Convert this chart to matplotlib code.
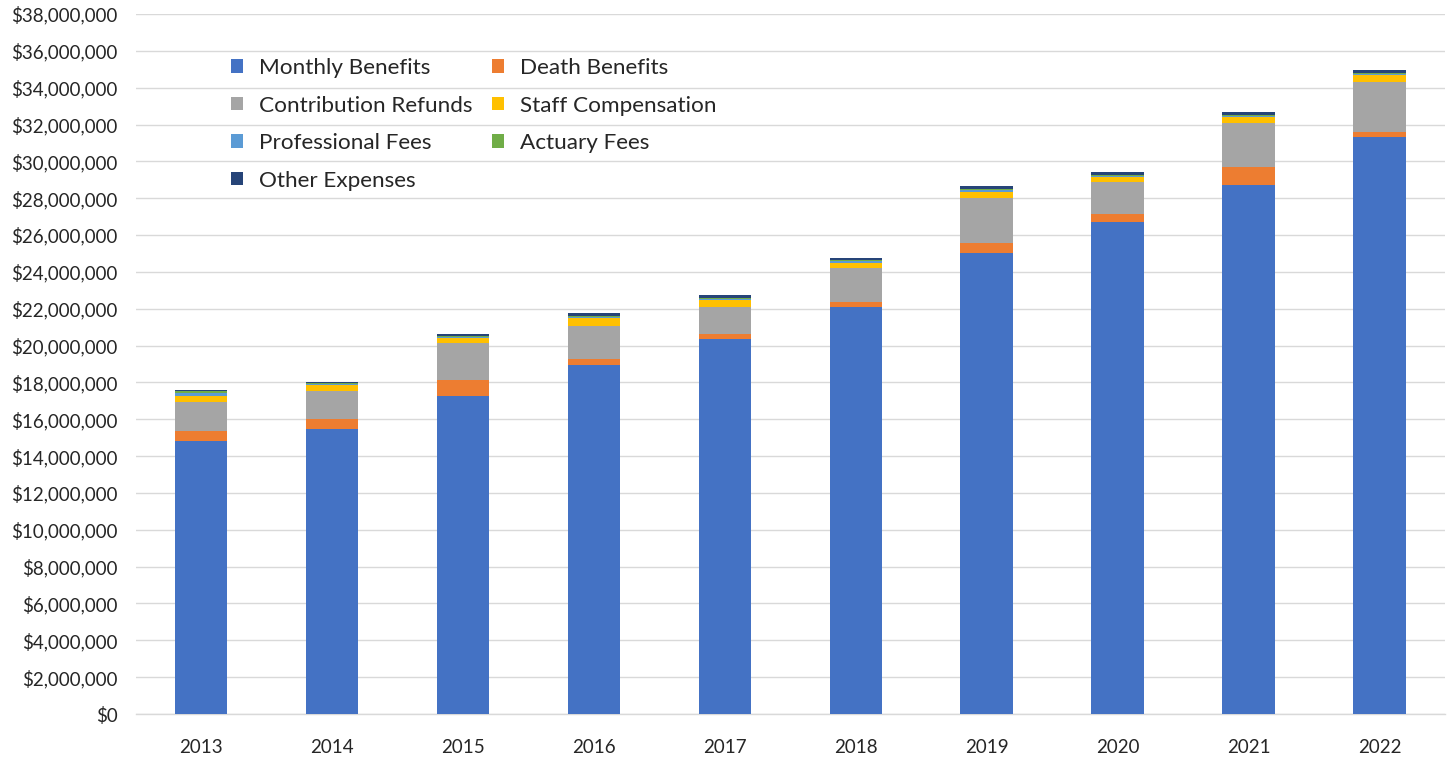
import matplotlib
matplotlib.use("Agg")
import matplotlib.pyplot as plt
from matplotlib.ticker import FuncFormatter, MultipleLocator
from matplotlib.patches import Patch
import numpy as np

plt.rcParams['font.family'] = ['Lato', 'DejaVu Sans']

years = ["2013", "2014", "2015", "2016", "2017", "2018", "2019", "2020", "2021", "2022"]

# Expense components, in dollars
monthly_benefits = [14820000, 15470000, 17260000, 18950000, 20340000, 22110000, 25040000, 26730000, 28720000, 31310000]
death_benefits = [540000, 540000, 870000, 320000, 290000, 270000, 530000, 400000, 960000, 300000]
contribution_refunds = [1580000, 1540000, 1990000, 1810000, 1450000, 1820000, 2440000, 1730000, 2420000, 2720000]
staff_compensation = [320000, 310000, 310000, 400000, 390000, 300000, 330000, 310000, 330000, 360000]
professional_fees = [140000, 50000, 50000, 70000, 50000, 80000, 80000, 50000, 50000, 50000]
actuary_fees = [120000, 40000, 40000, 70000, 50000, 70000, 80000, 40000, 40000, 40000]
other_expenses = [70000, 90000, 110000, 130000, 160000, 90000, 160000, 150000, 140000, 180000]

series = [
    ("Monthly Benefits", monthly_benefits, "#4472C4"),
    ("Death Benefits", death_benefits, "#ED7D31"),
    ("Contribution Refunds", contribution_refunds, "#A5A5A5"),
    ("Staff Compensation", staff_compensation, "#FFC000"),
    ("Professional Fees", professional_fees, "#5B9BD5"),
    ("Actuary Fees", actuary_fees, "#70AD47"),
    ("Other Expenses", other_expenses, "#264478"),
]

fig = plt.figure(figsize=(14.52, 7.58), dpi=100)
ax = fig.add_axes([135.5 / 1452, 44 / 758, 1309.5 / 1452, 700 / 758])

x = np.arange(len(years))
bottom = np.zeros(len(years))
handles = {}
for name, vals, color in series:
    vals = np.array(vals, dtype=float)
    ax.bar(x, vals, width=0.40, bottom=bottom, color=color, zorder=3, linewidth=0)
    handles[name] = Patch(facecolor=color, edgecolor="none")
    bottom += vals

ax.set_xlim(-0.5, len(years) - 0.5)
ax.set_ylim(0, 38000000)
ax.yaxis.set_major_locator(MultipleLocator(2000000))
ax.yaxis.set_major_formatter(FuncFormatter(lambda v, p: "${:,.0f}".format(v)))
ax.set_xticks(x)
ax.set_xticklabels(years)

ax.grid(axis="y", color="#D9D9D9", linewidth=1.0, zorder=0)
for s in ["top", "right", "left"]:
    ax.spines[s].set_visible(False)
ax.spines["bottom"].set_color("#D9D9D9")
ax.spines["bottom"].set_linewidth(1.0)
ax.tick_params(axis="both", length=0, labelsize=13.5, colors="#262626")
ax.tick_params(axis="x", pad=18)
ax.tick_params(axis="y", pad=13)

order = ["Monthly Benefits", "Contribution Refunds", "Professional Fees", "Other Expenses",
         "Death Benefits", "Staff Compensation", "Actuary Fees"]
leg = fig.legend([handles[n] for n in order], order, loc="upper left",
                 bbox_to_anchor=(231 / 1452, 1 - 58 / 758), ncol=2, frameon=False,
                 fontsize=16.2, handlelength=0.55, handleheight=0.55,
                 handletextpad=0.7, columnspacing=0.85, labelspacing=0.78,
                 borderpad=0, borderaxespad=0)
for t in leg.get_texts():
    t.set_color("#262626")

fig.savefig("out.png", dpi=100)
